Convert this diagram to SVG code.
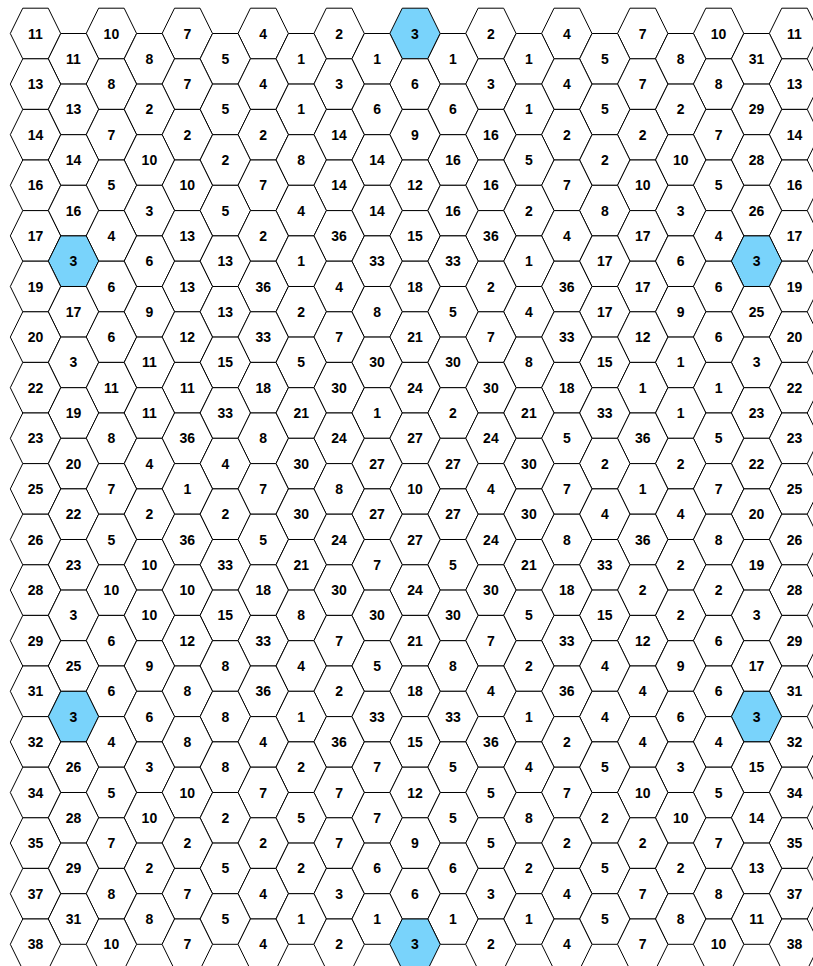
<svg xmlns="http://www.w3.org/2000/svg" xmlns:xlink="http://www.w3.org/1999/xlink" width="813" height="966" viewBox="0 0 813 966">
<style>
.bg{fill:#ffffff}
use{fill:#ffffff;stroke:#000000;stroke-width:1}
use.hl{fill:#79d3fb}
text{font-family:"Liberation Sans",Arial,Helvetica,sans-serif;font-weight:bold;font-size:14px;text-anchor:middle;fill:#000000}
</style>
<defs>
<polygon id="h" points="-25.2,0 -12.75,-25.3 12.75,-25.3 25.2,0 12.75,25.3 -12.75,25.3"/>
</defs>
<rect class="bg" x="0" y="0" width="813" height="966"/>
<g id="connectors"></g>
<g id="nodes">
<g transform="translate(0,33.5)">
<g id="n0_0" transform="translate(35.5)"><use href="#h"/><text y="5">11</text></g>
<g id="n0_2" transform="translate(111.4)"><use href="#h"/><text y="5">10</text></g>
<g id="n0_4" transform="translate(187.3)"><use href="#h"/><text y="5">7</text></g>
<g id="n0_6" transform="translate(263.2)"><use href="#h"/><text y="5">4</text></g>
<g id="n0_8" transform="translate(339.1)"><use href="#h"/><text y="5">2</text></g>
<g id="n0_10" transform="translate(415)"><use href="#h" class="hl"/><text y="5">3</text></g>
<g id="n0_12" transform="translate(490.9)"><use href="#h"/><text y="5">2</text></g>
<g id="n0_14" transform="translate(566.8)"><use href="#h"/><text y="5">4</text></g>
<g id="n0_16" transform="translate(642.7)"><use href="#h"/><text y="5">7</text></g>
<g id="n0_18" transform="translate(718.6)"><use href="#h"/><text y="5">10</text></g>
<g id="n0_20" transform="translate(794.5)"><use href="#h"/><text y="5">11</text></g>
</g>
<g transform="translate(0,58.8)">
<g id="n1_1" transform="translate(73.5)"><use href="#h"/><text y="5">11</text></g>
<g id="n1_3" transform="translate(149.4)"><use href="#h"/><text y="5">8</text></g>
<g id="n1_5" transform="translate(225.3)"><use href="#h"/><text y="5">5</text></g>
<g id="n1_7" transform="translate(301.2)"><use href="#h"/><text y="5">1</text></g>
<g id="n1_9" transform="translate(377.1)"><use href="#h"/><text y="5">1</text></g>
<g id="n1_11" transform="translate(453)"><use href="#h"/><text y="5">1</text></g>
<g id="n1_13" transform="translate(528.9)"><use href="#h"/><text y="5">1</text></g>
<g id="n1_15" transform="translate(604.8)"><use href="#h"/><text y="5">5</text></g>
<g id="n1_17" transform="translate(680.7)"><use href="#h"/><text y="5">8</text></g>
<g id="n1_19" transform="translate(756.6)"><use href="#h"/><text y="5">31</text></g>
</g>
<g transform="translate(0,84.1)">
<g id="n2_0" transform="translate(35.5)"><use href="#h"/><text y="5">13</text></g>
<g id="n2_2" transform="translate(111.4)"><use href="#h"/><text y="5">8</text></g>
<g id="n2_4" transform="translate(187.3)"><use href="#h"/><text y="5">7</text></g>
<g id="n2_6" transform="translate(263.2)"><use href="#h"/><text y="5">4</text></g>
<g id="n2_8" transform="translate(339.1)"><use href="#h"/><text y="5">3</text></g>
<g id="n2_10" transform="translate(415)"><use href="#h"/><text y="5">6</text></g>
<g id="n2_12" transform="translate(490.9)"><use href="#h"/><text y="5">3</text></g>
<g id="n2_14" transform="translate(566.8)"><use href="#h"/><text y="5">4</text></g>
<g id="n2_16" transform="translate(642.7)"><use href="#h"/><text y="5">7</text></g>
<g id="n2_18" transform="translate(718.6)"><use href="#h"/><text y="5">8</text></g>
<g id="n2_20" transform="translate(794.5)"><use href="#h"/><text y="5">13</text></g>
</g>
<g transform="translate(0,109.4)">
<g id="n3_1" transform="translate(73.5)"><use href="#h"/><text y="5">13</text></g>
<g id="n3_3" transform="translate(149.4)"><use href="#h"/><text y="5">2</text></g>
<g id="n3_5" transform="translate(225.3)"><use href="#h"/><text y="5">5</text></g>
<g id="n3_7" transform="translate(301.2)"><use href="#h"/><text y="5">1</text></g>
<g id="n3_9" transform="translate(377.1)"><use href="#h"/><text y="5">6</text></g>
<g id="n3_11" transform="translate(453)"><use href="#h"/><text y="5">6</text></g>
<g id="n3_13" transform="translate(528.9)"><use href="#h"/><text y="5">1</text></g>
<g id="n3_15" transform="translate(604.8)"><use href="#h"/><text y="5">5</text></g>
<g id="n3_17" transform="translate(680.7)"><use href="#h"/><text y="5">2</text></g>
<g id="n3_19" transform="translate(756.6)"><use href="#h"/><text y="5">29</text></g>
</g>
<g transform="translate(0,134.7)">
<g id="n4_0" transform="translate(35.5)"><use href="#h"/><text y="5">14</text></g>
<g id="n4_2" transform="translate(111.4)"><use href="#h"/><text y="5">7</text></g>
<g id="n4_4" transform="translate(187.3)"><use href="#h"/><text y="5">2</text></g>
<g id="n4_6" transform="translate(263.2)"><use href="#h"/><text y="5">2</text></g>
<g id="n4_8" transform="translate(339.1)"><use href="#h"/><text y="5">14</text></g>
<g id="n4_10" transform="translate(415)"><use href="#h"/><text y="5">9</text></g>
<g id="n4_12" transform="translate(490.9)"><use href="#h"/><text y="5">16</text></g>
<g id="n4_14" transform="translate(566.8)"><use href="#h"/><text y="5">2</text></g>
<g id="n4_16" transform="translate(642.7)"><use href="#h"/><text y="5">2</text></g>
<g id="n4_18" transform="translate(718.6)"><use href="#h"/><text y="5">7</text></g>
<g id="n4_20" transform="translate(794.5)"><use href="#h"/><text y="5">14</text></g>
</g>
<g transform="translate(0,160)">
<g id="n5_1" transform="translate(73.5)"><use href="#h"/><text y="5">14</text></g>
<g id="n5_3" transform="translate(149.4)"><use href="#h"/><text y="5">10</text></g>
<g id="n5_5" transform="translate(225.3)"><use href="#h"/><text y="5">2</text></g>
<g id="n5_7" transform="translate(301.2)"><use href="#h"/><text y="5">8</text></g>
<g id="n5_9" transform="translate(377.1)"><use href="#h"/><text y="5">14</text></g>
<g id="n5_11" transform="translate(453)"><use href="#h"/><text y="5">16</text></g>
<g id="n5_13" transform="translate(528.9)"><use href="#h"/><text y="5">5</text></g>
<g id="n5_15" transform="translate(604.8)"><use href="#h"/><text y="5">2</text></g>
<g id="n5_17" transform="translate(680.7)"><use href="#h"/><text y="5">10</text></g>
<g id="n5_19" transform="translate(756.6)"><use href="#h"/><text y="5">28</text></g>
</g>
<g transform="translate(0,185.3)">
<g id="n6_0" transform="translate(35.5)"><use href="#h"/><text y="5">16</text></g>
<g id="n6_2" transform="translate(111.4)"><use href="#h"/><text y="5">5</text></g>
<g id="n6_4" transform="translate(187.3)"><use href="#h"/><text y="5">10</text></g>
<g id="n6_6" transform="translate(263.2)"><use href="#h"/><text y="5">7</text></g>
<g id="n6_8" transform="translate(339.1)"><use href="#h"/><text y="5">14</text></g>
<g id="n6_10" transform="translate(415)"><use href="#h"/><text y="5">12</text></g>
<g id="n6_12" transform="translate(490.9)"><use href="#h"/><text y="5">16</text></g>
<g id="n6_14" transform="translate(566.8)"><use href="#h"/><text y="5">7</text></g>
<g id="n6_16" transform="translate(642.7)"><use href="#h"/><text y="5">10</text></g>
<g id="n6_18" transform="translate(718.6)"><use href="#h"/><text y="5">5</text></g>
<g id="n6_20" transform="translate(794.5)"><use href="#h"/><text y="5">16</text></g>
</g>
<g transform="translate(0,210.6)">
<g id="n7_1" transform="translate(73.5)"><use href="#h"/><text y="5">16</text></g>
<g id="n7_3" transform="translate(149.4)"><use href="#h"/><text y="5">3</text></g>
<g id="n7_5" transform="translate(225.3)"><use href="#h"/><text y="5">5</text></g>
<g id="n7_7" transform="translate(301.2)"><use href="#h"/><text y="5">4</text></g>
<g id="n7_9" transform="translate(377.1)"><use href="#h"/><text y="5">14</text></g>
<g id="n7_11" transform="translate(453)"><use href="#h"/><text y="5">16</text></g>
<g id="n7_13" transform="translate(528.9)"><use href="#h"/><text y="5">2</text></g>
<g id="n7_15" transform="translate(604.8)"><use href="#h"/><text y="5">8</text></g>
<g id="n7_17" transform="translate(680.7)"><use href="#h"/><text y="5">3</text></g>
<g id="n7_19" transform="translate(756.6)"><use href="#h"/><text y="5">26</text></g>
</g>
<g transform="translate(0,235.9)">
<g id="n8_0" transform="translate(35.5)"><use href="#h"/><text y="5">17</text></g>
<g id="n8_2" transform="translate(111.4)"><use href="#h"/><text y="5">4</text></g>
<g id="n8_4" transform="translate(187.3)"><use href="#h"/><text y="5">13</text></g>
<g id="n8_6" transform="translate(263.2)"><use href="#h"/><text y="5">2</text></g>
<g id="n8_8" transform="translate(339.1)"><use href="#h"/><text y="5">36</text></g>
<g id="n8_10" transform="translate(415)"><use href="#h"/><text y="5">15</text></g>
<g id="n8_12" transform="translate(490.9)"><use href="#h"/><text y="5">36</text></g>
<g id="n8_14" transform="translate(566.8)"><use href="#h"/><text y="5">4</text></g>
<g id="n8_16" transform="translate(642.7)"><use href="#h"/><text y="5">17</text></g>
<g id="n8_18" transform="translate(718.6)"><use href="#h"/><text y="5">4</text></g>
<g id="n8_20" transform="translate(794.5)"><use href="#h"/><text y="5">17</text></g>
</g>
<g transform="translate(0,261.2)">
<g id="n9_1" transform="translate(73.5)"><use href="#h" class="hl"/><text y="5">3</text></g>
<g id="n9_3" transform="translate(149.4)"><use href="#h"/><text y="5">6</text></g>
<g id="n9_5" transform="translate(225.3)"><use href="#h"/><text y="5">13</text></g>
<g id="n9_7" transform="translate(301.2)"><use href="#h"/><text y="5">1</text></g>
<g id="n9_9" transform="translate(377.1)"><use href="#h"/><text y="5">33</text></g>
<g id="n9_11" transform="translate(453)"><use href="#h"/><text y="5">33</text></g>
<g id="n9_13" transform="translate(528.9)"><use href="#h"/><text y="5">1</text></g>
<g id="n9_15" transform="translate(604.8)"><use href="#h"/><text y="5">17</text></g>
<g id="n9_17" transform="translate(680.7)"><use href="#h"/><text y="5">6</text></g>
<g id="n9_19" transform="translate(756.6)"><use href="#h" class="hl"/><text y="5">3</text></g>
</g>
<g transform="translate(0,286.5)">
<g id="n10_0" transform="translate(35.5)"><use href="#h"/><text y="5">19</text></g>
<g id="n10_2" transform="translate(111.4)"><use href="#h"/><text y="5">6</text></g>
<g id="n10_4" transform="translate(187.3)"><use href="#h"/><text y="5">13</text></g>
<g id="n10_6" transform="translate(263.2)"><use href="#h"/><text y="5">36</text></g>
<g id="n10_8" transform="translate(339.1)"><use href="#h"/><text y="5">4</text></g>
<g id="n10_10" transform="translate(415)"><use href="#h"/><text y="5">18</text></g>
<g id="n10_12" transform="translate(490.9)"><use href="#h"/><text y="5">2</text></g>
<g id="n10_14" transform="translate(566.8)"><use href="#h"/><text y="5">36</text></g>
<g id="n10_16" transform="translate(642.7)"><use href="#h"/><text y="5">17</text></g>
<g id="n10_18" transform="translate(718.6)"><use href="#h"/><text y="5">6</text></g>
<g id="n10_20" transform="translate(794.5)"><use href="#h"/><text y="5">19</text></g>
</g>
<g transform="translate(0,311.8)">
<g id="n11_1" transform="translate(73.5)"><use href="#h"/><text y="5">17</text></g>
<g id="n11_3" transform="translate(149.4)"><use href="#h"/><text y="5">9</text></g>
<g id="n11_5" transform="translate(225.3)"><use href="#h"/><text y="5">13</text></g>
<g id="n11_7" transform="translate(301.2)"><use href="#h"/><text y="5">2</text></g>
<g id="n11_9" transform="translate(377.1)"><use href="#h"/><text y="5">8</text></g>
<g id="n11_11" transform="translate(453)"><use href="#h"/><text y="5">5</text></g>
<g id="n11_13" transform="translate(528.9)"><use href="#h"/><text y="5">4</text></g>
<g id="n11_15" transform="translate(604.8)"><use href="#h"/><text y="5">17</text></g>
<g id="n11_17" transform="translate(680.7)"><use href="#h"/><text y="5">9</text></g>
<g id="n11_19" transform="translate(756.6)"><use href="#h"/><text y="5">25</text></g>
</g>
<g transform="translate(0,337.1)">
<g id="n12_0" transform="translate(35.5)"><use href="#h"/><text y="5">20</text></g>
<g id="n12_2" transform="translate(111.4)"><use href="#h"/><text y="5">6</text></g>
<g id="n12_4" transform="translate(187.3)"><use href="#h"/><text y="5">12</text></g>
<g id="n12_6" transform="translate(263.2)"><use href="#h"/><text y="5">33</text></g>
<g id="n12_8" transform="translate(339.1)"><use href="#h"/><text y="5">7</text></g>
<g id="n12_10" transform="translate(415)"><use href="#h"/><text y="5">21</text></g>
<g id="n12_12" transform="translate(490.9)"><use href="#h"/><text y="5">7</text></g>
<g id="n12_14" transform="translate(566.8)"><use href="#h"/><text y="5">33</text></g>
<g id="n12_16" transform="translate(642.7)"><use href="#h"/><text y="5">12</text></g>
<g id="n12_18" transform="translate(718.6)"><use href="#h"/><text y="5">6</text></g>
<g id="n12_20" transform="translate(794.5)"><use href="#h"/><text y="5">20</text></g>
</g>
<g transform="translate(0,362.4)">
<g id="n13_1" transform="translate(73.5)"><use href="#h"/><text y="5">3</text></g>
<g id="n13_3" transform="translate(149.4)"><use href="#h"/><text y="5">11</text></g>
<g id="n13_5" transform="translate(225.3)"><use href="#h"/><text y="5">15</text></g>
<g id="n13_7" transform="translate(301.2)"><use href="#h"/><text y="5">5</text></g>
<g id="n13_9" transform="translate(377.1)"><use href="#h"/><text y="5">30</text></g>
<g id="n13_11" transform="translate(453)"><use href="#h"/><text y="5">30</text></g>
<g id="n13_13" transform="translate(528.9)"><use href="#h"/><text y="5">8</text></g>
<g id="n13_15" transform="translate(604.8)"><use href="#h"/><text y="5">15</text></g>
<g id="n13_17" transform="translate(680.7)"><use href="#h"/><text y="5">1</text></g>
<g id="n13_19" transform="translate(756.6)"><use href="#h"/><text y="5">3</text></g>
</g>
<g transform="translate(0,387.7)">
<g id="n14_0" transform="translate(35.5)"><use href="#h"/><text y="5">22</text></g>
<g id="n14_2" transform="translate(111.4)"><use href="#h"/><text y="5">11</text></g>
<g id="n14_4" transform="translate(187.3)"><use href="#h"/><text y="5">11</text></g>
<g id="n14_6" transform="translate(263.2)"><use href="#h"/><text y="5">18</text></g>
<g id="n14_8" transform="translate(339.1)"><use href="#h"/><text y="5">30</text></g>
<g id="n14_10" transform="translate(415)"><use href="#h"/><text y="5">24</text></g>
<g id="n14_12" transform="translate(490.9)"><use href="#h"/><text y="5">30</text></g>
<g id="n14_14" transform="translate(566.8)"><use href="#h"/><text y="5">18</text></g>
<g id="n14_16" transform="translate(642.7)"><use href="#h"/><text y="5">1</text></g>
<g id="n14_18" transform="translate(718.6)"><use href="#h"/><text y="5">1</text></g>
<g id="n14_20" transform="translate(794.5)"><use href="#h"/><text y="5">22</text></g>
</g>
<g transform="translate(0,413)">
<g id="n15_1" transform="translate(73.5)"><use href="#h"/><text y="5">19</text></g>
<g id="n15_3" transform="translate(149.4)"><use href="#h"/><text y="5">11</text></g>
<g id="n15_5" transform="translate(225.3)"><use href="#h"/><text y="5">33</text></g>
<g id="n15_7" transform="translate(301.2)"><use href="#h"/><text y="5">21</text></g>
<g id="n15_9" transform="translate(377.1)"><use href="#h"/><text y="5">1</text></g>
<g id="n15_11" transform="translate(453)"><use href="#h"/><text y="5">2</text></g>
<g id="n15_13" transform="translate(528.9)"><use href="#h"/><text y="5">21</text></g>
<g id="n15_15" transform="translate(604.8)"><use href="#h"/><text y="5">33</text></g>
<g id="n15_17" transform="translate(680.7)"><use href="#h"/><text y="5">1</text></g>
<g id="n15_19" transform="translate(756.6)"><use href="#h"/><text y="5">23</text></g>
</g>
<g transform="translate(0,438.3)">
<g id="n16_0" transform="translate(35.5)"><use href="#h"/><text y="5">23</text></g>
<g id="n16_2" transform="translate(111.4)"><use href="#h"/><text y="5">8</text></g>
<g id="n16_4" transform="translate(187.3)"><use href="#h"/><text y="5">36</text></g>
<g id="n16_6" transform="translate(263.2)"><use href="#h"/><text y="5">8</text></g>
<g id="n16_8" transform="translate(339.1)"><use href="#h"/><text y="5">24</text></g>
<g id="n16_10" transform="translate(415)"><use href="#h"/><text y="5">27</text></g>
<g id="n16_12" transform="translate(490.9)"><use href="#h"/><text y="5">24</text></g>
<g id="n16_14" transform="translate(566.8)"><use href="#h"/><text y="5">5</text></g>
<g id="n16_16" transform="translate(642.7)"><use href="#h"/><text y="5">36</text></g>
<g id="n16_18" transform="translate(718.6)"><use href="#h"/><text y="5">5</text></g>
<g id="n16_20" transform="translate(794.5)"><use href="#h"/><text y="5">23</text></g>
</g>
<g transform="translate(0,463.6)">
<g id="n17_1" transform="translate(73.5)"><use href="#h"/><text y="5">20</text></g>
<g id="n17_3" transform="translate(149.4)"><use href="#h"/><text y="5">4</text></g>
<g id="n17_5" transform="translate(225.3)"><use href="#h"/><text y="5">4</text></g>
<g id="n17_7" transform="translate(301.2)"><use href="#h"/><text y="5">30</text></g>
<g id="n17_9" transform="translate(377.1)"><use href="#h"/><text y="5">27</text></g>
<g id="n17_11" transform="translate(453)"><use href="#h"/><text y="5">27</text></g>
<g id="n17_13" transform="translate(528.9)"><use href="#h"/><text y="5">30</text></g>
<g id="n17_15" transform="translate(604.8)"><use href="#h"/><text y="5">2</text></g>
<g id="n17_17" transform="translate(680.7)"><use href="#h"/><text y="5">2</text></g>
<g id="n17_19" transform="translate(756.6)"><use href="#h"/><text y="5">22</text></g>
</g>
<g transform="translate(0,488.9)">
<g id="n18_0" transform="translate(35.5)"><use href="#h"/><text y="5">25</text></g>
<g id="n18_2" transform="translate(111.4)"><use href="#h"/><text y="5">7</text></g>
<g id="n18_4" transform="translate(187.3)"><use href="#h"/><text y="5">1</text></g>
<g id="n18_6" transform="translate(263.2)"><use href="#h"/><text y="5">7</text></g>
<g id="n18_8" transform="translate(339.1)"><use href="#h"/><text y="5">8</text></g>
<g id="n18_10" transform="translate(415)"><use href="#h"/><text y="5">10</text></g>
<g id="n18_12" transform="translate(490.9)"><use href="#h"/><text y="5">4</text></g>
<g id="n18_14" transform="translate(566.8)"><use href="#h"/><text y="5">7</text></g>
<g id="n18_16" transform="translate(642.7)"><use href="#h"/><text y="5">1</text></g>
<g id="n18_18" transform="translate(718.6)"><use href="#h"/><text y="5">7</text></g>
<g id="n18_20" transform="translate(794.5)"><use href="#h"/><text y="5">25</text></g>
</g>
<g transform="translate(0,514.2)">
<g id="n19_1" transform="translate(73.5)"><use href="#h"/><text y="5">22</text></g>
<g id="n19_3" transform="translate(149.4)"><use href="#h"/><text y="5">2</text></g>
<g id="n19_5" transform="translate(225.3)"><use href="#h"/><text y="5">2</text></g>
<g id="n19_7" transform="translate(301.2)"><use href="#h"/><text y="5">30</text></g>
<g id="n19_9" transform="translate(377.1)"><use href="#h"/><text y="5">27</text></g>
<g id="n19_11" transform="translate(453)"><use href="#h"/><text y="5">27</text></g>
<g id="n19_13" transform="translate(528.9)"><use href="#h"/><text y="5">30</text></g>
<g id="n19_15" transform="translate(604.8)"><use href="#h"/><text y="5">4</text></g>
<g id="n19_17" transform="translate(680.7)"><use href="#h"/><text y="5">4</text></g>
<g id="n19_19" transform="translate(756.6)"><use href="#h"/><text y="5">20</text></g>
</g>
<g transform="translate(0,539.5)">
<g id="n20_0" transform="translate(35.5)"><use href="#h"/><text y="5">26</text></g>
<g id="n20_2" transform="translate(111.4)"><use href="#h"/><text y="5">5</text></g>
<g id="n20_4" transform="translate(187.3)"><use href="#h"/><text y="5">36</text></g>
<g id="n20_6" transform="translate(263.2)"><use href="#h"/><text y="5">5</text></g>
<g id="n20_8" transform="translate(339.1)"><use href="#h"/><text y="5">24</text></g>
<g id="n20_10" transform="translate(415)"><use href="#h"/><text y="5">27</text></g>
<g id="n20_12" transform="translate(490.9)"><use href="#h"/><text y="5">24</text></g>
<g id="n20_14" transform="translate(566.8)"><use href="#h"/><text y="5">8</text></g>
<g id="n20_16" transform="translate(642.7)"><use href="#h"/><text y="5">36</text></g>
<g id="n20_18" transform="translate(718.6)"><use href="#h"/><text y="5">8</text></g>
<g id="n20_20" transform="translate(794.5)"><use href="#h"/><text y="5">26</text></g>
</g>
<g transform="translate(0,564.8)">
<g id="n21_1" transform="translate(73.5)"><use href="#h"/><text y="5">23</text></g>
<g id="n21_3" transform="translate(149.4)"><use href="#h"/><text y="5">10</text></g>
<g id="n21_5" transform="translate(225.3)"><use href="#h"/><text y="5">33</text></g>
<g id="n21_7" transform="translate(301.2)"><use href="#h"/><text y="5">21</text></g>
<g id="n21_9" transform="translate(377.1)"><use href="#h"/><text y="5">7</text></g>
<g id="n21_11" transform="translate(453)"><use href="#h"/><text y="5">5</text></g>
<g id="n21_13" transform="translate(528.9)"><use href="#h"/><text y="5">21</text></g>
<g id="n21_15" transform="translate(604.8)"><use href="#h"/><text y="5">33</text></g>
<g id="n21_17" transform="translate(680.7)"><use href="#h"/><text y="5">2</text></g>
<g id="n21_19" transform="translate(756.6)"><use href="#h"/><text y="5">19</text></g>
</g>
<g transform="translate(0,590.1)">
<g id="n22_0" transform="translate(35.5)"><use href="#h"/><text y="5">28</text></g>
<g id="n22_2" transform="translate(111.4)"><use href="#h"/><text y="5">10</text></g>
<g id="n22_4" transform="translate(187.3)"><use href="#h"/><text y="5">10</text></g>
<g id="n22_6" transform="translate(263.2)"><use href="#h"/><text y="5">18</text></g>
<g id="n22_8" transform="translate(339.1)"><use href="#h"/><text y="5">30</text></g>
<g id="n22_10" transform="translate(415)"><use href="#h"/><text y="5">24</text></g>
<g id="n22_12" transform="translate(490.9)"><use href="#h"/><text y="5">30</text></g>
<g id="n22_14" transform="translate(566.8)"><use href="#h"/><text y="5">18</text></g>
<g id="n22_16" transform="translate(642.7)"><use href="#h"/><text y="5">2</text></g>
<g id="n22_18" transform="translate(718.6)"><use href="#h"/><text y="5">2</text></g>
<g id="n22_20" transform="translate(794.5)"><use href="#h"/><text y="5">28</text></g>
</g>
<g transform="translate(0,615.4)">
<g id="n23_1" transform="translate(73.5)"><use href="#h"/><text y="5">3</text></g>
<g id="n23_3" transform="translate(149.4)"><use href="#h"/><text y="5">10</text></g>
<g id="n23_5" transform="translate(225.3)"><use href="#h"/><text y="5">15</text></g>
<g id="n23_7" transform="translate(301.2)"><use href="#h"/><text y="5">8</text></g>
<g id="n23_9" transform="translate(377.1)"><use href="#h"/><text y="5">30</text></g>
<g id="n23_11" transform="translate(453)"><use href="#h"/><text y="5">30</text></g>
<g id="n23_13" transform="translate(528.9)"><use href="#h"/><text y="5">5</text></g>
<g id="n23_15" transform="translate(604.8)"><use href="#h"/><text y="5">15</text></g>
<g id="n23_17" transform="translate(680.7)"><use href="#h"/><text y="5">2</text></g>
<g id="n23_19" transform="translate(756.6)"><use href="#h"/><text y="5">3</text></g>
</g>
<g transform="translate(0,640.7)">
<g id="n24_0" transform="translate(35.5)"><use href="#h"/><text y="5">29</text></g>
<g id="n24_2" transform="translate(111.4)"><use href="#h"/><text y="5">6</text></g>
<g id="n24_4" transform="translate(187.3)"><use href="#h"/><text y="5">12</text></g>
<g id="n24_6" transform="translate(263.2)"><use href="#h"/><text y="5">33</text></g>
<g id="n24_8" transform="translate(339.1)"><use href="#h"/><text y="5">7</text></g>
<g id="n24_10" transform="translate(415)"><use href="#h"/><text y="5">21</text></g>
<g id="n24_12" transform="translate(490.9)"><use href="#h"/><text y="5">7</text></g>
<g id="n24_14" transform="translate(566.8)"><use href="#h"/><text y="5">33</text></g>
<g id="n24_16" transform="translate(642.7)"><use href="#h"/><text y="5">12</text></g>
<g id="n24_18" transform="translate(718.6)"><use href="#h"/><text y="5">6</text></g>
<g id="n24_20" transform="translate(794.5)"><use href="#h"/><text y="5">29</text></g>
</g>
<g transform="translate(0,666)">
<g id="n25_1" transform="translate(73.5)"><use href="#h"/><text y="5">25</text></g>
<g id="n25_3" transform="translate(149.4)"><use href="#h"/><text y="5">9</text></g>
<g id="n25_5" transform="translate(225.3)"><use href="#h"/><text y="5">8</text></g>
<g id="n25_7" transform="translate(301.2)"><use href="#h"/><text y="5">4</text></g>
<g id="n25_9" transform="translate(377.1)"><use href="#h"/><text y="5">5</text></g>
<g id="n25_11" transform="translate(453)"><use href="#h"/><text y="5">8</text></g>
<g id="n25_13" transform="translate(528.9)"><use href="#h"/><text y="5">2</text></g>
<g id="n25_15" transform="translate(604.8)"><use href="#h"/><text y="5">4</text></g>
<g id="n25_17" transform="translate(680.7)"><use href="#h"/><text y="5">9</text></g>
<g id="n25_19" transform="translate(756.6)"><use href="#h"/><text y="5">17</text></g>
</g>
<g transform="translate(0,691.3)">
<g id="n26_0" transform="translate(35.5)"><use href="#h"/><text y="5">31</text></g>
<g id="n26_2" transform="translate(111.4)"><use href="#h"/><text y="5">6</text></g>
<g id="n26_4" transform="translate(187.3)"><use href="#h"/><text y="5">8</text></g>
<g id="n26_6" transform="translate(263.2)"><use href="#h"/><text y="5">36</text></g>
<g id="n26_8" transform="translate(339.1)"><use href="#h"/><text y="5">2</text></g>
<g id="n26_10" transform="translate(415)"><use href="#h"/><text y="5">18</text></g>
<g id="n26_12" transform="translate(490.9)"><use href="#h"/><text y="5">4</text></g>
<g id="n26_14" transform="translate(566.8)"><use href="#h"/><text y="5">36</text></g>
<g id="n26_16" transform="translate(642.7)"><use href="#h"/><text y="5">4</text></g>
<g id="n26_18" transform="translate(718.6)"><use href="#h"/><text y="5">6</text></g>
<g id="n26_20" transform="translate(794.5)"><use href="#h"/><text y="5">31</text></g>
</g>
<g transform="translate(0,716.6)">
<g id="n27_1" transform="translate(73.5)"><use href="#h" class="hl"/><text y="5">3</text></g>
<g id="n27_3" transform="translate(149.4)"><use href="#h"/><text y="5">6</text></g>
<g id="n27_5" transform="translate(225.3)"><use href="#h"/><text y="5">8</text></g>
<g id="n27_7" transform="translate(301.2)"><use href="#h"/><text y="5">1</text></g>
<g id="n27_9" transform="translate(377.1)"><use href="#h"/><text y="5">33</text></g>
<g id="n27_11" transform="translate(453)"><use href="#h"/><text y="5">33</text></g>
<g id="n27_13" transform="translate(528.9)"><use href="#h"/><text y="5">1</text></g>
<g id="n27_15" transform="translate(604.8)"><use href="#h"/><text y="5">4</text></g>
<g id="n27_17" transform="translate(680.7)"><use href="#h"/><text y="5">6</text></g>
<g id="n27_19" transform="translate(756.6)"><use href="#h" class="hl"/><text y="5">3</text></g>
</g>
<g transform="translate(0,741.9)">
<g id="n28_0" transform="translate(35.5)"><use href="#h"/><text y="5">32</text></g>
<g id="n28_2" transform="translate(111.4)"><use href="#h"/><text y="5">4</text></g>
<g id="n28_4" transform="translate(187.3)"><use href="#h"/><text y="5">8</text></g>
<g id="n28_6" transform="translate(263.2)"><use href="#h"/><text y="5">4</text></g>
<g id="n28_8" transform="translate(339.1)"><use href="#h"/><text y="5">36</text></g>
<g id="n28_10" transform="translate(415)"><use href="#h"/><text y="5">15</text></g>
<g id="n28_12" transform="translate(490.9)"><use href="#h"/><text y="5">36</text></g>
<g id="n28_14" transform="translate(566.8)"><use href="#h"/><text y="5">2</text></g>
<g id="n28_16" transform="translate(642.7)"><use href="#h"/><text y="5">4</text></g>
<g id="n28_18" transform="translate(718.6)"><use href="#h"/><text y="5">4</text></g>
<g id="n28_20" transform="translate(794.5)"><use href="#h"/><text y="5">32</text></g>
</g>
<g transform="translate(0,767.2)">
<g id="n29_1" transform="translate(73.5)"><use href="#h"/><text y="5">26</text></g>
<g id="n29_3" transform="translate(149.4)"><use href="#h"/><text y="5">3</text></g>
<g id="n29_5" transform="translate(225.3)"><use href="#h"/><text y="5">8</text></g>
<g id="n29_7" transform="translate(301.2)"><use href="#h"/><text y="5">2</text></g>
<g id="n29_9" transform="translate(377.1)"><use href="#h"/><text y="5">7</text></g>
<g id="n29_11" transform="translate(453)"><use href="#h"/><text y="5">5</text></g>
<g id="n29_13" transform="translate(528.9)"><use href="#h"/><text y="5">4</text></g>
<g id="n29_15" transform="translate(604.8)"><use href="#h"/><text y="5">5</text></g>
<g id="n29_17" transform="translate(680.7)"><use href="#h"/><text y="5">3</text></g>
<g id="n29_19" transform="translate(756.6)"><use href="#h"/><text y="5">15</text></g>
</g>
<g transform="translate(0,792.5)">
<g id="n30_0" transform="translate(35.5)"><use href="#h"/><text y="5">34</text></g>
<g id="n30_2" transform="translate(111.4)"><use href="#h"/><text y="5">5</text></g>
<g id="n30_4" transform="translate(187.3)"><use href="#h"/><text y="5">10</text></g>
<g id="n30_6" transform="translate(263.2)"><use href="#h"/><text y="5">7</text></g>
<g id="n30_8" transform="translate(339.1)"><use href="#h"/><text y="5">7</text></g>
<g id="n30_10" transform="translate(415)"><use href="#h"/><text y="5">12</text></g>
<g id="n30_12" transform="translate(490.9)"><use href="#h"/><text y="5">5</text></g>
<g id="n30_14" transform="translate(566.8)"><use href="#h"/><text y="5">7</text></g>
<g id="n30_16" transform="translate(642.7)"><use href="#h"/><text y="5">10</text></g>
<g id="n30_18" transform="translate(718.6)"><use href="#h"/><text y="5">5</text></g>
<g id="n30_20" transform="translate(794.5)"><use href="#h"/><text y="5">34</text></g>
</g>
<g transform="translate(0,817.8)">
<g id="n31_1" transform="translate(73.5)"><use href="#h"/><text y="5">28</text></g>
<g id="n31_3" transform="translate(149.4)"><use href="#h"/><text y="5">10</text></g>
<g id="n31_5" transform="translate(225.3)"><use href="#h"/><text y="5">2</text></g>
<g id="n31_7" transform="translate(301.2)"><use href="#h"/><text y="5">5</text></g>
<g id="n31_9" transform="translate(377.1)"><use href="#h"/><text y="5">7</text></g>
<g id="n31_11" transform="translate(453)"><use href="#h"/><text y="5">5</text></g>
<g id="n31_13" transform="translate(528.9)"><use href="#h"/><text y="5">8</text></g>
<g id="n31_15" transform="translate(604.8)"><use href="#h"/><text y="5">2</text></g>
<g id="n31_17" transform="translate(680.7)"><use href="#h"/><text y="5">10</text></g>
<g id="n31_19" transform="translate(756.6)"><use href="#h"/><text y="5">14</text></g>
</g>
<g transform="translate(0,843.1)">
<g id="n32_0" transform="translate(35.5)"><use href="#h"/><text y="5">35</text></g>
<g id="n32_2" transform="translate(111.4)"><use href="#h"/><text y="5">7</text></g>
<g id="n32_4" transform="translate(187.3)"><use href="#h"/><text y="5">2</text></g>
<g id="n32_6" transform="translate(263.2)"><use href="#h"/><text y="5">2</text></g>
<g id="n32_8" transform="translate(339.1)"><use href="#h"/><text y="5">7</text></g>
<g id="n32_10" transform="translate(415)"><use href="#h"/><text y="5">9</text></g>
<g id="n32_12" transform="translate(490.9)"><use href="#h"/><text y="5">5</text></g>
<g id="n32_14" transform="translate(566.8)"><use href="#h"/><text y="5">2</text></g>
<g id="n32_16" transform="translate(642.7)"><use href="#h"/><text y="5">2</text></g>
<g id="n32_18" transform="translate(718.6)"><use href="#h"/><text y="5">7</text></g>
<g id="n32_20" transform="translate(794.5)"><use href="#h"/><text y="5">35</text></g>
</g>
<g transform="translate(0,868.4)">
<g id="n33_1" transform="translate(73.5)"><use href="#h"/><text y="5">29</text></g>
<g id="n33_3" transform="translate(149.4)"><use href="#h"/><text y="5">2</text></g>
<g id="n33_5" transform="translate(225.3)"><use href="#h"/><text y="5">5</text></g>
<g id="n33_7" transform="translate(301.2)"><use href="#h"/><text y="5">2</text></g>
<g id="n33_9" transform="translate(377.1)"><use href="#h"/><text y="5">6</text></g>
<g id="n33_11" transform="translate(453)"><use href="#h"/><text y="5">6</text></g>
<g id="n33_13" transform="translate(528.9)"><use href="#h"/><text y="5">2</text></g>
<g id="n33_15" transform="translate(604.8)"><use href="#h"/><text y="5">5</text></g>
<g id="n33_17" transform="translate(680.7)"><use href="#h"/><text y="5">2</text></g>
<g id="n33_19" transform="translate(756.6)"><use href="#h"/><text y="5">13</text></g>
</g>
<g transform="translate(0,893.7)">
<g id="n34_0" transform="translate(35.5)"><use href="#h"/><text y="5">37</text></g>
<g id="n34_2" transform="translate(111.4)"><use href="#h"/><text y="5">8</text></g>
<g id="n34_4" transform="translate(187.3)"><use href="#h"/><text y="5">7</text></g>
<g id="n34_6" transform="translate(263.2)"><use href="#h"/><text y="5">4</text></g>
<g id="n34_8" transform="translate(339.1)"><use href="#h"/><text y="5">3</text></g>
<g id="n34_10" transform="translate(415)"><use href="#h"/><text y="5">6</text></g>
<g id="n34_12" transform="translate(490.9)"><use href="#h"/><text y="5">3</text></g>
<g id="n34_14" transform="translate(566.8)"><use href="#h"/><text y="5">4</text></g>
<g id="n34_16" transform="translate(642.7)"><use href="#h"/><text y="5">7</text></g>
<g id="n34_18" transform="translate(718.6)"><use href="#h"/><text y="5">8</text></g>
<g id="n34_20" transform="translate(794.5)"><use href="#h"/><text y="5">37</text></g>
</g>
<g transform="translate(0,919)">
<g id="n35_1" transform="translate(73.5)"><use href="#h"/><text y="5">31</text></g>
<g id="n35_3" transform="translate(149.4)"><use href="#h"/><text y="5">8</text></g>
<g id="n35_5" transform="translate(225.3)"><use href="#h"/><text y="5">5</text></g>
<g id="n35_7" transform="translate(301.2)"><use href="#h"/><text y="5">1</text></g>
<g id="n35_9" transform="translate(377.1)"><use href="#h"/><text y="5">1</text></g>
<g id="n35_11" transform="translate(453)"><use href="#h"/><text y="5">1</text></g>
<g id="n35_13" transform="translate(528.9)"><use href="#h"/><text y="5">1</text></g>
<g id="n35_15" transform="translate(604.8)"><use href="#h"/><text y="5">5</text></g>
<g id="n35_17" transform="translate(680.7)"><use href="#h"/><text y="5">8</text></g>
<g id="n35_19" transform="translate(756.6)"><use href="#h"/><text y="5">11</text></g>
</g>
<g transform="translate(0,944.3)">
<g id="n36_0" transform="translate(35.5)"><use href="#h"/><text y="5">38</text></g>
<g id="n36_2" transform="translate(111.4)"><use href="#h"/><text y="5">10</text></g>
<g id="n36_4" transform="translate(187.3)"><use href="#h"/><text y="5">7</text></g>
<g id="n36_6" transform="translate(263.2)"><use href="#h"/><text y="5">4</text></g>
<g id="n36_8" transform="translate(339.1)"><use href="#h"/><text y="5">2</text></g>
<g id="n36_10" transform="translate(415)"><use href="#h" class="hl"/><text y="5">3</text></g>
<g id="n36_12" transform="translate(490.9)"><use href="#h"/><text y="5">2</text></g>
<g id="n36_14" transform="translate(566.8)"><use href="#h"/><text y="5">4</text></g>
<g id="n36_16" transform="translate(642.7)"><use href="#h"/><text y="5">7</text></g>
<g id="n36_18" transform="translate(718.6)"><use href="#h"/><text y="5">10</text></g>
<g id="n36_20" transform="translate(794.5)"><use href="#h"/><text y="5">38</text></g>
</g>
</g>
</svg>
